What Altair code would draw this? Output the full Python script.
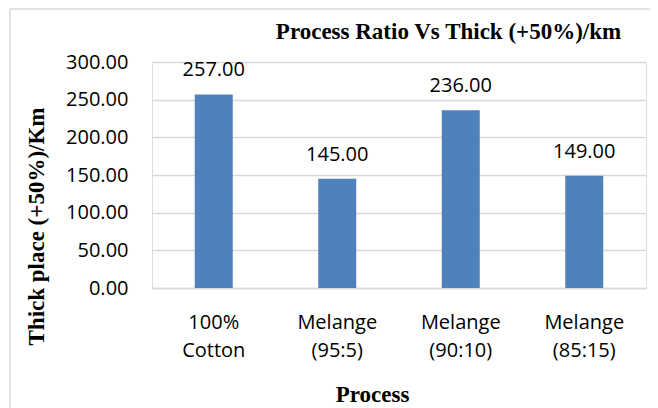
import altair as alt
import pandas as pd

processes = ["100% Cotton", "Melange (95:5)", "Melange (90:10)", "Melange (85:15)"]
thick_places = [257.0, 145.0, 236.0, 149.0]
y_ticks = [0, 50, 100, 150, 200, 250, 300]
chart_title = "Process Ratio Vs Thick (+50%)/km"

df = pd.DataFrame({"process": processes, "value": thick_places})
one_row = pd.DataFrame({"k": [0]})

LABEL_FONT = "Open Sans"
TITLE_FONT = "Liberation Serif"
BAR_COLOR = "#4F81BD"
GRID = "#d9d9d9"

x_enc = alt.X(
    "process:N",
    sort=processes,
    scale=alt.Scale(paddingInner=0, paddingOuter=0),
    axis=alt.Axis(
        title="Process",
        titleFont=TITLE_FONT,
        titleFontSize=23,
        titleFontWeight="bold",
        titleColor="black",
        titleX=220,
        titleY=113,
        titleAlign="center",
        titleBaseline="alphabetic",
        titleAngle=0,
        labelExpr="split(datum.label, ' ')",
        labelFont=LABEL_FONT,
        labelFontSize=20,
        labelColor="black",
        labelLineHeight=28,
        labelPadding=24,
        labelAngle=0,
        ticks=False,
        grid=False,
        domainColor=GRID,
        domainWidth=1.3,
    ),
)
y_enc = alt.Y(
    "value:Q",
    scale=alt.Scale(domain=[0, 300], nice=False),
    axis=alt.Axis(
        title="Thick place (+50%)/Km",
        titleFont=TITLE_FONT,
        titleFontSize=23,
        titleFontWeight="bold",
        titleColor="black",
        titleAngle=270,
        titleX=-116,
        titleY=164,
        titleAlign="center",
        titleBaseline="middle",
        values=y_ticks,
        format=".2f",
        labelFont=LABEL_FONT,
        labelFontSize=20,
        labelColor="black",
        labelPadding=24,
        ticks=False,
        domain=False,
        grid=True,
        gridColor=GRID,
        gridWidth=1.3,
    ),
)

bars = alt.Chart(df).mark_bar(size=38, color=BAR_COLOR).encode(x=x_enc, y=y_enc)
labels = alt.Chart(df).mark_text(
    font=LABEL_FONT, fontSize=20, color="black", baseline="alphabetic", dy=-18
).encode(x=x_enc, y=y_enc, text=alt.Text("value:Q", format=".2f"))

title_mark = alt.Chart(one_row).mark_text(
    text=chart_title,
    font=TITLE_FONT,
    fontSize=23,
    fontWeight="bold",
    color="black",
    align="center",
    baseline="alphabetic",
).encode(x=alt.value(296.5), y=alt.value(-23))

top_line = alt.Chart(one_row).mark_rule(color=GRID, strokeWidth=1.5).encode(
    x=alt.value(-142), x2=alt.value(520), y=alt.value(-53)
)
left_line = alt.Chart(one_row).mark_rule(color=GRID, strokeWidth=1.5).encode(
    x=alt.value(-142), y=alt.value(-53), y2=alt.value(360)
)

chart = alt.layer(bars, labels, title_mark, top_line, left_line).properties(
    width=494,
    height=226,
    autosize=alt.AutoSizeParams(type="none"),
    padding={"left": 144, "top": 54, "right": 4, "bottom": 120},
).configure_view(stroke="transparent").configure(background="white")

chart.save("out.html", embed_options={"renderer": "svg", "actions": False})
